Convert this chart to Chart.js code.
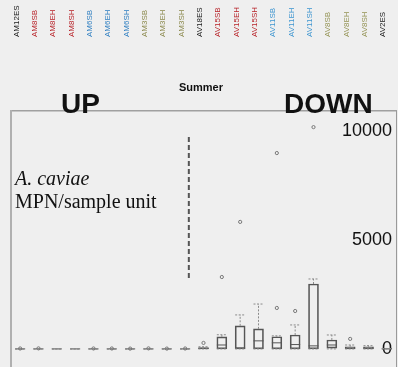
<!DOCTYPE html>
<html>
<head>
<meta charset="utf-8">
<script src="https://cdn.jsdelivr.net/npm/chart.js@4.4.0/dist/chart.umd.min.js"></script>
<style>
  html, body { margin: 0; padding: 0; background: #efefef; }
  #wrap { width: 398px; height: 367px; position: relative; }
</style>
</head>
<body>
<div id="wrap"><canvas id="box"></canvas></div>
<script>
const sites = ['AM12ES', 'AM8SB', 'AM8EH', 'AM8SH', 'AM6SB', 'AM6EH', 'AM6SH', 'AM3SB', 'AM3EH', 'AM3SH',
  'AV18ES', 'AV15SB', 'AV15EH', 'AV15SH', 'AV11SB', 'AV11EH', 'AV11SH', 'AV8SB', 'AV8EH', 'AV8SH', 'AV2ES'];
const siteColors = ['#1a1a1a', '#b8242a', '#b8242a', '#b8242a', '#2f7fc1', '#2f7fc1', '#2f7fc1', '#8c8a4e', '#8c8a4e', '#8c8a4e',
  '#1a1a1a', '#b8242a', '#b8242a', '#b8242a', '#3d95d0', '#3d95d0', '#3d95d0', '#959456', '#959456', '#959456', '#1a1a1a'];

// box plot stats, MPN/sample unit
const whiskerLow = [0, 0, 0, 0, 0, 0, 0, 0, 0, 0, 0, 0, 0, 0, 0, 0, 0, 0, 0, 0, 0];
const q1 =         [0, 0, 0, 0, 0, 0, 0, 0, 0, 0, 0, 0, 0, 0, 0, 0, 0, 40, 0, 0, 0];
const median =     [0, 0, 0, 0, 0, 0, 0, 0, 0, 0, 20, 180, 40, 370, 280, 200, 140, 180, 40, 40, 0];
const q3 =         [0, 0, 0, 0, 0, 0, 0, 0, 0, 0, 60, 550, 1060, 920, 560, 640, 2980, 410, 100, 100, 10];
const whiskerHigh = [0, 0, 0, 0, 0, 0, 0, 0, 0, 0, 100, 650, 1560, 2060, 600, 1100, 3210, 640, 180, 150, 20];
const outliers = [[20], [25], [], [], [20], [20], [15], [25], [15], [20],
  [275], [3300], [5830], [], [8990, 1880], [1740], [10180], [], [460], [], []];
const yTicks = [0, 5000, 10000];

const outlierPoints = [];
outliers.forEach((list, i) => list.forEach(v => outlierPoints.push({ x: sites[i], y: v })));

// dashed whiskers + caps, drawn through the scales
const whiskers = {
  id: 'whiskers',
  afterDatasetsDraw(chart) {
    const { ctx, scales: { x, y } } = chart;
    ctx.save();
    ctx.strokeStyle = '#8a8a8a';
    ctx.lineWidth = 1;
    ctx.setLineDash([2, 1.5]);
    sites.forEach((s, i) => {
      const px = x.getPixelForValue(i);
      ctx.beginPath();
      ctx.moveTo(px, y.getPixelForValue(q3[i]));
      ctx.lineTo(px, y.getPixelForValue(whiskerHigh[i]));
      ctx.moveTo(px, y.getPixelForValue(q1[i]));
      ctx.lineTo(px, y.getPixelForValue(whiskerLow[i]));
      ctx.stroke();
      ctx.beginPath();
      [whiskerLow[i], whiskerHigh[i]].forEach(v => {
        const py = y.getPixelForValue(v);
        ctx.moveTo(px - 5, py);
        ctx.lineTo(px + 5, py);
      });
      ctx.stroke();
    });
    ctx.restore();
  }
};

// panel texts: season, UP/DOWN, axis title and the divider
const panelText = {
  id: 'panelText',
  afterDraw(chart) {
    const { ctx, scales: { x } } = chart;
    ctx.save();
    ctx.setLineDash([5, 3]);
    ctx.strokeStyle = '#555';
    ctx.lineWidth = 2;
    const dx = x.getPixelForValue(9) + 0.2 * (x.getPixelForValue(10) - x.getPixelForValue(9));
    ctx.beginPath();
    ctx.moveTo(dx, 137);
    ctx.lineTo(dx, 278);
    ctx.stroke();
    ctx.setLineDash([]);
    ctx.fillStyle = '#111';
    ctx.textAlign = 'center';
    ctx.textBaseline = 'alphabetic';
    ctx.font = 'bold 11px "Liberation Sans", Arial, sans-serif';
    ctx.fillText('Summer', 201, 91);
    ctx.textAlign = 'left';
    ctx.font = 'bold 28px "Liberation Sans", Arial, sans-serif';
    ctx.fillText('UP', 61, 113);
    ctx.fillText('DOWN', 284, 113);
    ctx.font = 'italic 20px "Liberation Serif", "Times New Roman", serif';
    ctx.fillText('A. caviae', 15, 185);
    ctx.font = '20px "Liberation Serif", "Times New Roman", serif';
    ctx.fillText('MPN/sample unit', 15, 208);
    ctx.restore();
  }
};

new Chart(document.getElementById('box'), {
  data: {
    labels: sites,
    datasets: [
      {
        type: 'bar',
        label: 'box',
        data: sites.map((s, i) => [q1[i], q3[i]]),
        backgroundColor: 'rgba(0,0,0,0)',
        borderColor: '#555',
        borderWidth: 1,
        borderSkipped: false,
        barThickness: 10,
        grouped: false
      },
      {
        type: 'line',
        label: 'median',
        data: median,
        showLine: false,
        pointStyle: 'line',
        pointRadius: 5,
        borderColor: '#555',
        borderWidth: 1
      },
      {
        type: 'line',
        label: 'outliers',
        data: outlierPoints,
        showLine: false,
        pointStyle: 'circle',
        pointRadius: 1.6,
        backgroundColor: 'rgba(0,0,0,0)',
        borderColor: '#777',
        borderWidth: 1
      }
    ]
  },
  options: {
    responsive: true,
    maintainAspectRatio: false,
    animation: false,
    layout: { autoPadding: false, padding: { left: 11, right: 2, top: 0, bottom: 0 } },
    plugins: { legend: { display: false }, tooltip: { enabled: false } },
    scales: {
      x: {
        position: 'top',
        offset: true,
        grid: { display: false, drawTicks: false },
        border: { color: '#a0a0a0', width: 1.5 },
        afterFit: axis => { axis.height = 111; axis.paddingLeft = 0; axis.paddingRight = 0; },
        ticks: {
          autoSkip: false,
          minRotation: 90,
          maxRotation: 90,
          padding: 74,
          labelOffset: 6,
          font: { size: 8, family: '"Liberation Sans Narrow", "Liberation Sans", sans-serif' },
          color: ctx => siteColors[ctx.index]
        }
      },
      y: {
        position: 'right',
        min: -830,
        max: 10920,
        grid: { display: false, drawTicks: false },
        border: { color: '#9a9a9a', width: 1 },
        afterBuildTicks: axis => { axis.ticks = yTicks.map(v => ({ value: v })); },
        afterFit: axis => { axis.width = 0; axis.paddingTop = 0; axis.paddingBottom = 0; },
        ticks: {
          mirror: true,
          padding: -4,
          callback: v => String(v),
          font: { size: 18, family: '"Liberation Sans", Arial, sans-serif' },
          color: '#111'
        }
      },
      yl: {
        position: 'left',
        grid: { display: false, drawTicks: false },
        border: { color: '#b0b0b0', width: 2 },
        afterFit: axis => { axis.width = 0; axis.paddingTop = 0; axis.paddingBottom = 0; },
        ticks: { display: false }
      }
    }
  },
  plugins: [whiskers, panelText]
});
</script>
</body>
</html>
